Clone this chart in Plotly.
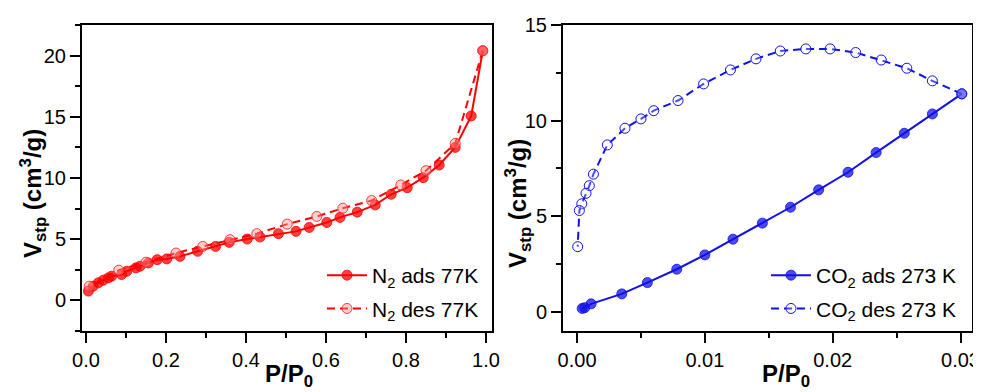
import plotly.graph_objects as go

# ---------------- data ----------------
n2_ads_p = [0.006, 0.018, 0.031, 0.043, 0.056, 0.064, 0.089, 0.102, 0.125, 0.135, 0.156, 0.178,
            0.202, 0.235, 0.279, 0.324, 0.358, 0.403, 0.435, 0.481, 0.525, 0.558, 0.602, 0.635,
            0.678, 0.723, 0.763, 0.803, 0.843, 0.883, 0.923, 0.963, 0.992]
n2_ads_v = [0.76, 1.16, 1.44, 1.65, 1.84, 1.98, 2.11, 2.38, 2.66, 2.79, 3.06, 3.33,
            3.39, 3.60, 4.01, 4.41, 4.74, 5.01, 5.18, 5.45, 5.64, 5.96, 6.37, 6.78,
            7.21, 7.80, 8.67, 9.21, 10.03, 11.06, 12.5, 15.07, 20.4]
n2_des_p = [0.992, 0.923, 0.850, 0.787, 0.714, 0.642, 0.577, 0.503, 0.427, 0.360, 0.292,
            0.225, 0.150, 0.082, 0.008]
n2_des_v = [20.4, 12.82, 10.6, 9.43, 8.16, 7.53, 6.86, 6.23, 5.45, 4.96, 4.41,
            3.87, 3.12, 2.47, 1.16]

co2_ads_p = [0.0004, 0.0006, 0.0011, 0.0035, 0.0055, 0.0078, 0.0100, 0.0122, 0.0145, 0.0167,
             0.0189, 0.0212, 0.0234, 0.0256, 0.0278, 0.0301]
co2_ads_v = [0.18, 0.22, 0.42, 0.94, 1.53, 2.23, 2.98, 3.80, 4.64, 5.47,
             6.38, 7.30, 8.33, 9.34, 10.35, 11.40]
co2_des_p = [0.0301, 0.0278, 0.0258, 0.0238, 0.0218, 0.0198, 0.0179, 0.0159, 0.0140, 0.0120,
             0.0099, 0.0079, 0.0060, 0.0050, 0.00375, 0.00237, 0.00128, 0.00096, 0.0007,
             0.00037, 0.00018, 0.00005]
co2_des_v = [11.40, 12.08, 12.74, 13.17, 13.56, 13.75, 13.75, 13.64, 13.23, 12.65,
             11.92, 11.05, 10.52, 10.09, 9.60, 8.73, 7.20, 6.60, 6.20,
             5.65, 5.30, 3.41]

names = ["N<sub>2</sub> ads 77K", "N<sub>2</sub> des 77K",
         "CO<sub>2</sub> ads 273 K", "CO<sub>2</sub> des 273 K"]
x_title = "<b>P/P<sub>0</sub></b>"
y_title = "<b>V<sub>stp</sub> (cm<sup>3</sup>/g)</b>"

RED = "#FF0000"
BLUE = "#1010E8"
FONT = "Liberation Sans, Arial, sans-serif"
TICK_SIZE = 20
LEG_SIZE = 21
TITLE_SIZE = 24

# page has an 8px body margin: the figure is shrunk and positions are offset
OFF = 8
W, H = 981 - OFF, 392 - OFF
def px(x):
    return (x - OFF) / W
def py(y):
    return (H - (y - OFF)) / H

fig = go.Figure()

fig.add_trace(go.Scatter(x=n2_ads_p, y=n2_ads_v, name=names[0], mode="lines+markers",
                         line=dict(color=RED, width=2),
                         marker=dict(symbol="circle", size=10, color="rgba(255,0,0,0.75)",
                                     line=dict(color="rgba(255,0,0,0.8)", width=1)),
                         xaxis="x", yaxis="y", legend="legend", legendgroup="a"))
fig.add_trace(go.Scatter(x=n2_des_p, y=n2_des_v, name=names[1], mode="lines+markers",
                         line=dict(color=RED, width=2, dash="8px,5px"),
                         marker=dict(symbol="circle", size=10, color="rgba(255,150,150,0.45)",
                                     line=dict(color="rgba(255,40,40,0.9)", width=1)),
                         xaxis="x", yaxis="y", legend="legend", legendgroup="b"))
fig.add_trace(go.Scatter(x=co2_ads_p, y=co2_ads_v, name=names[2], mode="lines+markers",
                         line=dict(color=BLUE, width=2),
                         marker=dict(symbol="circle", size=10, color="rgba(16,16,232,0.75)",
                                     line=dict(color="rgba(16,16,232,0.8)", width=1)),
                         xaxis="x2", yaxis="y2", legend="legend2", legendgroup="c"))
fig.add_trace(go.Scatter(x=co2_des_p, y=co2_des_v, name=names[3], mode="lines+markers",
                         line=dict(color=BLUE, width=2, dash="8px,5px"),
                         marker=dict(symbol="circle", size=10, color="rgba(255,255,255,0.25)",
                                     line=dict(color=BLUE, width=1)),
                         xaxis="x2", yaxis="y2", legend="legend2", legendgroup="d"))

minor_common = dict(ticks="outside", ticklen=5, tickwidth=2, tickcolor="black")
axis_common = dict(showline=True, linecolor="black", linewidth=2, mirror=True,
                   showgrid=False, zeroline=False, ticks="outside", ticklen=10,
                   tickwidth=2, tickcolor="black", automargin=False,
                   tickfont=dict(family=FONT, size=TICK_SIZE, color="black"))
ydom = [py(331), py(25)]

legend_common = dict(xanchor="right", yanchor="bottom", bgcolor="rgba(0,0,0,0)",
                     font=dict(family=FONT, size=LEG_SIZE, color="black"),
                     traceorder="grouped", tracegroupgap=3, itemwidth=40)

fig.update_layout(
    width=W, height=H,
    margin=dict(l=0, r=0, t=0, b=0),
    paper_bgcolor="white", plot_bgcolor="white",
    font=dict(family=FONT, color="black"),
    xaxis=dict(domain=[px(82), px(492)], range=[-0.01, 1.015], dtick=0.2, tick0=0,
               tickformat=".1f", anchor="y", minor=dict(dtick=0.1, **minor_common),
               **axis_common),
    yaxis=dict(domain=ydom, range=[-2.5, 22.5], dtick=5, tick0=0, anchor="x",
               minor=dict(dtick=2.5, **minor_common), **axis_common),
    xaxis2=dict(domain=[px(563), px(972)], range=[-0.0011, 0.0309], dtick=0.01, tick0=0,
                tickformat=".2f", anchor="y2", minor=dict(dtick=0.005, **minor_common),
                **axis_common),
    yaxis2=dict(domain=ydom, range=[-1, 15], dtick=5, tick0=0, anchor="x2",
                minor=dict(dtick=2.5, **minor_common), **axis_common),
    legend=dict(x=px(484), y=py(329), **legend_common),
    legend2=dict(x=px(962), y=py(329), **legend_common),
    showlegend=True,
    annotations=[
        dict(text=y_title, x=px(33), y=py(194), xref="paper", yref="paper", textangle=-90,
             showarrow=False, font=dict(family=FONT, size=TITLE_SIZE, color="black"),
             xanchor="center", yanchor="middle"),
        dict(text=y_title, x=px(518), y=py(204), xref="paper", yref="paper", textangle=-90,
             showarrow=False, font=dict(family=FONT, size=TITLE_SIZE, color="black"),
             xanchor="center", yanchor="middle"),
        dict(text=x_title, x=px(289), y=py(375), xref="paper", yref="paper",
             showarrow=False, font=dict(family=FONT, size=TITLE_SIZE, color="black"),
             xanchor="center", yanchor="middle"),
        dict(text=x_title, x=px(786), y=py(375), xref="paper", yref="paper",
             showarrow=False, font=dict(family=FONT, size=TITLE_SIZE, color="black"),
             xanchor="center", yanchor="middle"),
    ],
)

fig.write_html("out.html")
